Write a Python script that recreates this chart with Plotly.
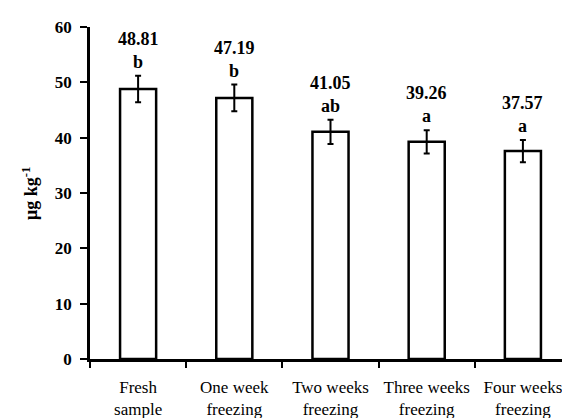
import plotly.graph_objects as go

categories = ["Fresh<br>sample", "One week<br>freezing", "Two weeks<br>freezing",
              "Three weeks<br>freezing", "Four weeks<br>freezing"]
means = [48.81, 47.19, 41.05, 39.26, 37.57]
errors = [2.4, 2.4, 2.2, 2.1, 2.0]
letters = ["b", "b", "ab", "a", "a"]
y_ticks = [0, 10, 20, 30, 40, 50, 60]

FONT = "Liberation Serif, Times New Roman, serif"

fig = go.Figure()
fig.add_trace(go.Bar(
    x=categories, y=means,
    marker=dict(color="white", line=dict(color="black", width=2.5)),
    error_y=dict(type="data", array=errors, visible=True, color="black",
                 thickness=2, width=3),
    width=0.375,
    showlegend=False,
))

for c, m, e, l in zip(categories, means, errors, letters):
    fig.add_annotation(x=c, y=m + e, text=f"{m:.2f}", showarrow=False,
                       yanchor="middle", yshift=37,
                       font=dict(family=FONT, size=18, color="black", weight="bold"))
    fig.add_annotation(x=c, y=m + e, text=l, showarrow=False,
                       yanchor="middle", yshift=14,
                       font=dict(family=FONT, size=18, color="black", weight="bold"))

fig.add_annotation(xref="paper", yref="paper", x=-0.125, y=0.5,
                   text="μg kg<sup>-1</sup>", textangle=-90, showarrow=False,
                   xanchor="center", yanchor="middle",
                   font=dict(family=FONT, size=18, color="black", weight="bold"))

fig.update_layout(
    width=570, height=418,
    margin=dict(l=82, r=7, t=19, b=59),
    paper_bgcolor="white", plot_bgcolor="white",
    font=dict(family=FONT, color="black"),
    xaxis=dict(type="category", range=[-0.5, 4.5], tickson="boundaries",
               ticks="outside", ticklen=6, tickwidth=2, tickcolor="black",
               tickangle=0, ticklabelstandoff=11,
               showline=True, linecolor="black", linewidth=2.5,
               showgrid=False, zeroline=False,
               tickfont=dict(family=FONT, size=17, color="black")),
    yaxis=dict(range=[0, 60], tickvals=y_ticks, ticks="outside", ticklen=7,
               tickwidth=2, tickcolor="black", showline=True, linecolor="black",
               linewidth=2.5, showgrid=False, zeroline=False,
               ticklabelstandoff=5,
               tickfont=dict(family=FONT, size=17, color="black", weight="bold")),
)

fig.write_html("out.html")
